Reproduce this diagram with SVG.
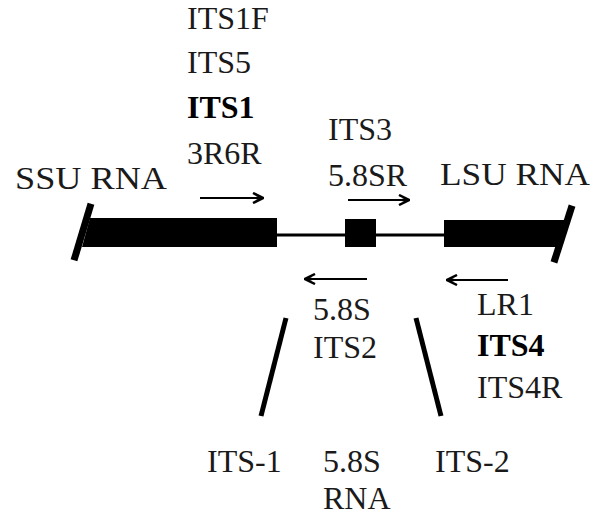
<svg xmlns="http://www.w3.org/2000/svg" width="596" height="516" viewBox="0 0 596 516">
<defs>
<style>
text{font-family:"Liberation Serif","Times New Roman",serif;font-size:32px;fill:#1a1a1a}
.b{font-weight:bold;fill:#000}
.blk{fill:#000}
.ln{stroke:#000;stroke-width:2;fill:none}
.sl{stroke:#000;stroke-width:7;stroke-linecap:square;fill:none}
</style>
<marker id="ah" viewBox="0 0 12 12" refX="11" refY="6" markerWidth="12" markerHeight="12" markerUnits="userSpaceOnUse" orient="auto">
<path d="M1,1 L11,6 L1,11 M4,6 L11,6" stroke="#000" stroke-width="2.5" fill="none"/>
</marker>
</defs>
<rect width="596" height="516" fill="#fff"/>
<g id="backbone">
<line x1="277" y1="235" x2="444" y2="235" stroke="#000" stroke-width="3"/>
</g>
<g id="ssu">
<polygon class="blk" points="90,218 277,218 277,247 82,247"/>
<line class="sl" x1="90" y1="207" x2="75" y2="257"/>
<text x="15" y="189" textLength="152" lengthAdjust="spacingAndGlyphs">SSU RNA</text>
</g>
<g id="s58">
<rect class="blk" x="345" y="219" width="31" height="28"/>
</g>
<g id="lsu">
<polygon class="blk" points="444,220 566,220 558,247 444,247"/>
<line class="sl" x1="571" y1="209" x2="555" y2="259"/>
<text x="440" y="185" textLength="150" lengthAdjust="spacingAndGlyphs">LSU RNA</text>
</g>
<g id="fwd1">
<text x="187" y="29">ITS1F</text>
<text x="187" y="73">ITS5</text>
<text class="b" x="187" y="118">ITS1</text>
<text x="187" y="164">3R6R</text>
</g>
<g id="fwd2">
<text x="328" y="140">ITS3</text>
<text x="328" y="186">5.8SR</text>
</g>
<g id="rev1">
<text x="313" y="320">5.8S</text>
<text x="313" y="358">ITS2</text>
</g>
<g id="rev2">
<text x="477" y="315">LR1</text>
<text class="b" x="477" y="356">ITS4</text>
<text x="477" y="398">ITS4R</text>
</g>
<g id="bottom">
<text x="207" y="472">ITS-1</text>
<text x="323" y="472">5.8S</text>
<text x="323" y="509">RNA</text>
<text x="435" y="472">ITS-2</text>
</g>
<g id="connectors">
<line class="ln" x1="200" y1="198" x2="263" y2="198" marker-end="url(#ah)"/>
<line class="ln" x1="348" y1="200" x2="409" y2="200" marker-end="url(#ah)"/>
<line class="ln" x1="367" y1="279" x2="305" y2="279" marker-end="url(#ah)"/>
<line class="ln" x1="508" y1="280" x2="447" y2="280" marker-end="url(#ah)"/>
<line stroke="#000" stroke-width="5" x1="286" y1="318" x2="261" y2="416"/>
<line stroke="#000" stroke-width="5" x1="416" y1="318" x2="441" y2="416"/>
</g>
</svg>
